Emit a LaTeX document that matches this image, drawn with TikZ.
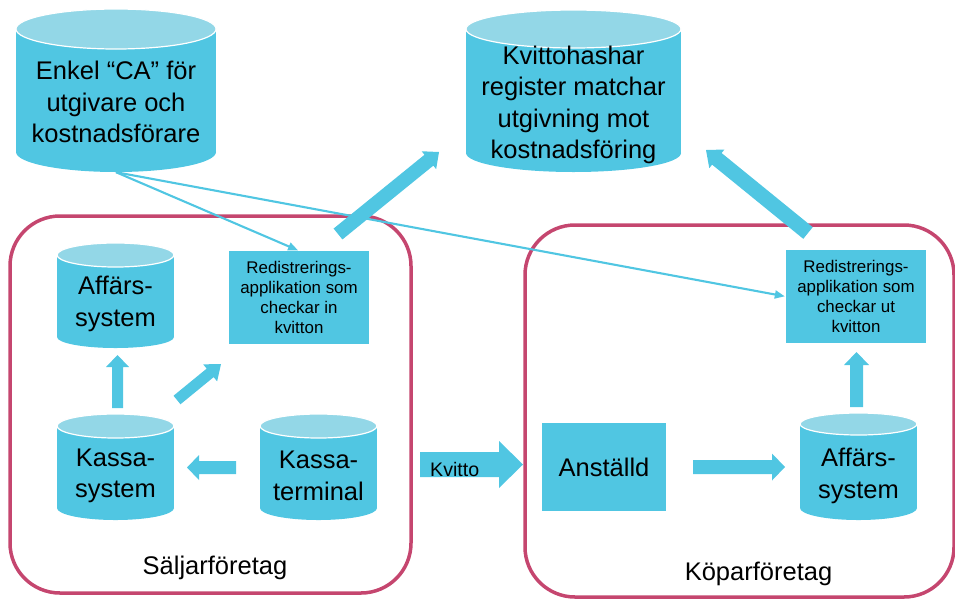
\documentclass[tikz,border=0pt]{standalone}
\usepackage{fontspec}
\setmainfont{Liberation Sans}
\usetikzlibrary{calc,arrows.meta}
\definecolor{cyanbody}{HTML}{50C6E2}
\definecolor{cyantop}{HTML}{93D7E7}
\definecolor{framered}{HTML}{C5466F}
\tikzset{
  cylbody/.style={fill=cyanbody},
  cyltop/.style={fill=cyantop, draw=white, line width=1.2pt},
  bigtext/.style={font=\fontsize{25.5}{31.5}\selectfont, align=center, text=black, inner sep=0pt},
  midtext/.style={font=\fontsize{19.6}{23}\selectfont, text=black, inner sep=0pt},
  smalltext/.style={font=\fontsize{16.9}{20.3}\selectfont, align=center, text=black, inner sep=0pt},
  appbox/.style={fill=cyanbody, inner sep=0pt},
  framebox/.style={draw=framered, line width=3.5pt, rounded corners=50pt},
  arrowfill/.style={fill=cyanbody},
  thinline/.style={draw=cyanbody, line width=2.1pt, -{Triangle[length=10pt,width=8pt]}, shorten >=1pt},
  shapebox/.style={inner sep=0pt, draw=none},
}
% #1 name, #2 cx, #3 rx, #4 top ellipse centre y, #5 bottom ellipse centre y, #6 ry top, #7 ry bottom, #8 text centre y, #9 text
\newcommand\dbcyl[9]{%
  \fill[cylbody] (#2,#5) ellipse [x radius=#3pt, y radius=#7pt];
  \fill[cylbody] (#2-#3,#4) rectangle (#2+#3,#5);
  \filldraw[cyltop] (#2,#4) ellipse [x radius=#3pt, y radius=#6pt];
  \node[shapebox, minimum width={2*#3*1pt}, minimum height={(#5+#7-#4+#6)*1pt}] (#1) at (#2,{(#4-#6+#5+#7)/2}) {};
  \node[bigtext] (#1-t) at (#2,#8) {#9};
}
% block arrow: #1 tail coord, #2 tip coord, #3 shaft half width, #4 head half width, #5 head length
\newcommand\blockarrow[5]{%
  \coordinate (bbase) at ($(#2)!#5!(#1)$);
  \fill[arrowfill] ($(#1)!#3!90:(#2)$) -- ($(bbase)!#3!90:(#2)$) -- ($(bbase)!#4!90:(#2)$) -- (#2)
    -- ($(bbase)!#4!-90:(#2)$) -- ($(bbase)!#3!-90:(#2)$) -- ($(#1)!#3!-90:(#2)$) -- cycle;
}
\begin{document}
\begin{tikzpicture}[x=1pt,y=-1pt]
\useasboundingbox (0,0) rectangle (955,598);

% frames
\draw[framebox] (10,216) rectangle (411,593);
\draw[framebox] (525,225) rectangle (954,597);
\node[bigtext, anchor=base] (seller) at (215,574) {Säljarföretag};
\node[bigtext, anchor=base] (buyer) at (758.5,580) {Köparföretag};

% cylinders
\dbcyl{C1}{116}{100}{29}{152}{20}{20}{102}{Enkel “CA” för\\utgivare och\\kostnadsförare}
\dbcyl{C2}{573.5}{107.5}{29}{153}{19}{19}{105}{Kvittohashar\\register matchar\\utgivning mot\\kostnadsföring}
\dbcyl{AL}{115.5}{58.5}{255}{337}{12}{11}{304}{Affärs-\\system}
\dbcyl{KS}{115.5}{58.5}{426}{508}{12}{12}{476}{Kassa-\\system}
\dbcyl{KT}{318.5}{58.5}{426}{508}{12}{12}{476}{Kassa-\\terminal}
\dbcyl{AR}{858.5}{58.5}{424}{508}{11}{12}{476}{Affärs-\\system}

% boxes
\node[appbox, smalltext, minimum width=140pt, minimum height=93pt] (RL) at (299,297.5)
  {Redistrerings-\\applikation som\\checkar in\\kvitton};
\node[appbox, smalltext, minimum width=140pt, minimum height=93pt] (RR) at (856,296.5)
  {Redistrerings-\\applikation som\\checkar ut\\kvitton};
\node[appbox, bigtext, minimum width=124pt, minimum height=88pt] (AN) at (604,467) {Anställd};

% block arrows
\coordinate (a1s) at (338,234); \coordinate (a1e) at (439,152);
\coordinate (a2s) at (808,233); \coordinate (a2e) at (706,150);
\coordinate (a3s) at (117.5,408); \coordinate (a3e) at (117.5,355);
\coordinate (a4s) at (177,400); \coordinate (a4e) at (221,364);
\coordinate (a5s) at (236,467.5); \coordinate (a5e) at (187,467.5);
\coordinate (a6s) at (420,464.5); \coordinate (a6e) at (523,464.5);
\coordinate (a7s) at (693,467); \coordinate (a7e) at (785,467);
\coordinate (a8s) at (856.5,407); \coordinate (a8e) at (856.5,352);
\blockarrow{a1s}{a1e}{7pt}{11.5pt}{13pt}
\blockarrow{a2s}{a2e}{7.5pt}{12pt}{14pt}
\blockarrow{a3s}{a3e}{5.5pt}{11.5pt}{12pt}
\blockarrow{a4s}{a4e}{5.5pt}{11pt}{14pt}
\blockarrow{a5s}{a5e}{6.5pt}{12.5pt}{12pt}
\blockarrow{a6s}{a6e}{12.5pt}{23.5pt}{24pt}
\blockarrow{a7s}{a7e}{7pt}{13.5pt}{13pt}
\blockarrow{a8s}{a8e}{6.5pt}{12.5pt}{13pt}
\node[midtext, anchor=base west] (kv) at (430,476) {Kvitto};

% thin connectors
\draw[thinline] (C1.south) -- (RL.north);
\draw[thinline] (C1.south) -- (RR.west);
\end{tikzpicture}
\end{document}
